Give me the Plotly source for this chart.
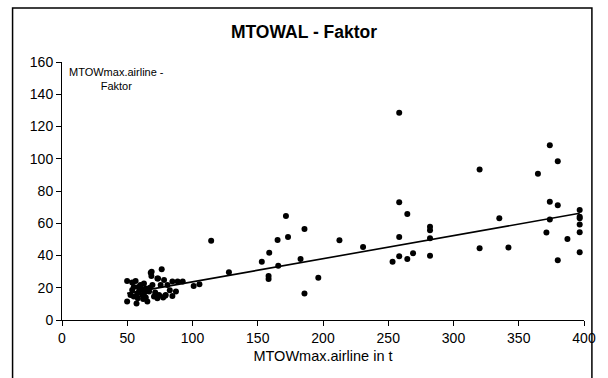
import plotly.graph_objects as go

# Data
mtow_t = [
    49.9, 49.9, 53.8, 56.4, 52.5, 53.8, 55.0, 57.1, 57.7, 60.1, 61.6, 62.8, 64.1, 65.4, 66.7,
    68.0, 68.5, 69.3, 70.5, 73.1, 73.1, 74.4, 75.6, 76.4, 78.2, 79.5, 80.8, 84.6, 84.6, 87.3,
    88.6, 92.5, 55.0, 58.1, 61.2, 64.2, 67.3, 59.1, 63.2, 71.4, 73.4, 77.5, 82.6, 68.7, 73.6, 79.0, 58.6, 62.2,
    114.3, 100.9, 105.3, 127.9,
    165.2, 158.8, 153.1, 165.7, 158.3, 158.3, 171.6, 185.8, 173.2, 182.8, 196.4, 185.8,
    212.6, 230.7,
    258.4, 258.4, 264.6, 258.4, 253.3, 258.4, 264.6, 269.0,
    282.0, 282.0, 282.0, 282.0,
    320.0, 320.0, 335.1, 342.1,
    364.7, 373.8, 379.9, 373.8, 379.9, 373.8, 371.2, 387.3, 379.9,
    396.7, 396.7, 396.7, 396.7, 396.7, 396.7,
]
faktor = [
    11.4, 24.2, 23.2, 24.2, 15.5, 18.6, 14.5, 10.3, 16.5, 21.7, 15.5, 22.7, 19.6, 11.4, 17.6,
    29.3, 27.3, 21.7, 14.5, 25.8, 13.5, 15.5, 21.7, 31.4, 24.8, 15.5, 21.7, 14.9, 23.8, 17.6,
    23.8, 23.8, 20.5, 13.5, 19.0, 14.0, 20.0, 18.0, 17.0, 17.0, 15.0, 14.0, 18.5, 30.0, 25.8, 15.1, 20.5, 13.0,
    49.2, 21.1, 22.1, 29.6,
    49.6, 41.7, 36.2, 33.7, 27.3, 25.4, 64.5, 56.4, 51.5, 37.8, 26.2, 16.5,
    49.4, 45.3,
    128.6, 73.0, 65.7, 51.5, 36.2, 39.5, 37.8, 41.4,
    57.9, 55.6, 50.7, 39.9,
    93.4, 44.5, 63.1, 44.9,
    90.7, 108.3, 98.4, 73.4, 71.1, 62.4, 54.2, 50.2, 37.0,
    68.2, 64.1, 63.1, 59.3, 54.4, 42.0,
]
trend_x = [49.9, 396.7]
trend_y = [16.5, 66.2]

x_ticks = [0, 50, 100, 150, 200, 250, 300, 350, 400]
y_ticks = [0, 20, 40, 60, 80, 100, 120, 140, 160]

FONT = "Liberation Sans, Arial, sans-serif"

fig = go.Figure()
fig.add_trace(go.Scatter(
    x=mtow_t, y=faktor, mode="markers",
    marker=dict(color="black", size=6, line=dict(width=0)),
    showlegend=False, cliponaxis=False,
))
fig.add_trace(go.Scatter(
    x=trend_x, y=trend_y, mode="lines",
    line=dict(color="black", width=1.6),
    showlegend=False,
))

L, R, T, B = 62, 18, 62, 58
W, H = 608, 378
pw, ph = W - L - R, H - T - B

def px2paper_x(px):
    return (px - L) / pw

def px2paper_y(py):
    return (H - B - py) / ph

fig.add_shape(type="rect", xref="paper", yref="paper",
              x0=px2paper_x(12), x1=px2paper_x(598),
              y0=px2paper_y(390), y1=px2paper_y(8),
              line=dict(color="black", width=1.5), fillcolor="rgba(0,0,0,0)",
              layer="below")

fig.update_layout(
    width=W, height=H,
    margin=dict(l=L, r=R, t=T, b=B),
    paper_bgcolor="white", plot_bgcolor="white",
    font=dict(family=FONT, color="black", size=14),
    title=dict(text="<b>MTOWAL - Faktor</b>", x=0.5, xanchor="center",
               xref="container", y=1 - 32 / H, yanchor="middle",
               font=dict(size=17.5, family=FONT, color="black")),
    xaxis=dict(range=[0, 400], tickvals=x_ticks, ticks="outside", ticklen=5,
               tickcolor="black", showline=True, linecolor="black", linewidth=1,
               showgrid=False, zeroline=False, tickfont=dict(size=14),
               title=dict(text="MTOWmax.airline in t", font=dict(size=14.5), standoff=6)),
    yaxis=dict(range=[0, 160], tickvals=y_ticks, ticks="outside", ticklen=5,
               tickcolor="black", showline=True, linecolor="black", linewidth=1,
               showgrid=False, zeroline=False, tickfont=dict(size=14)),
    annotations=[dict(text="MTOWmax.airline -<br>Faktor", x=px2paper_x(117), y=px2paper_y(79),
                      xref="paper", yref="paper", xanchor="center", yanchor="middle",
                      showarrow=False, font=dict(size=11, family=FONT), align="center")],
)

fig.write_html("out.html")
